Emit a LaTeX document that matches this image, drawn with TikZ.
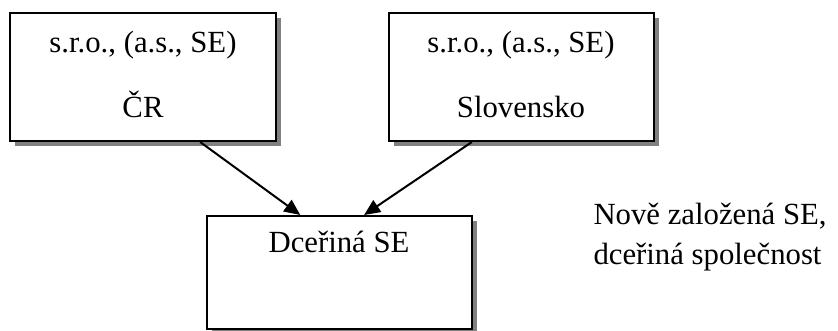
\documentclass[tikz,border=0pt]{standalone}
\usepackage{fontspec}
\setmainfont{Liberation Serif}
\usepackage{xcolor}
\usetikzlibrary{shadows,calc,arrows.meta}

\definecolor{stin}{gray}{0.5}

\tikzset{
	box/.style={draw, line width=0.8pt, fill=white, inner sep=0pt, minimum width=106pt,
		drop shadow={shadow xshift=2pt, shadow yshift=-2pt, fill=stin, opacity=1}},
	txt/.style={font=\fontsize{12.3}{15}\selectfont, inner sep=0pt},
	spoj/.style={line width=0.8pt, -{Triangle[length=6.4pt,width=5.6pt]}}
}

\begin{document}
\begin{tikzpicture}[x=0.4pt, y=-0.4pt]
				\useasboundingbox (0, 0) rectangle (838, 331);
				
				%Level 1
				\node[box, minimum height=51.2pt] (cr) at (143, 77) {};
				\node[txt, anchor=base] (cr1) at (143, 52.7) {s.r.o., (a.s., SE)};
				\node[txt, anchor=base] (cr2) at (143, 118) {ČR};
				
				\node[box, minimum height=51.2pt] (sk) at (521, 77) {};
				\node[txt, anchor=base] (sk1) at (521, 52.7) {s.r.o., (a.s., SE)};
				\node[txt, anchor=base] (sk2) at (521, 118) {Slovensko};
				
				%Level 2
				\node[box, minimum height=45.2pt] (dcera) at (339, 272.5) {};
				\node[txt, anchor=base] (dcera1) at (339, 253) {Dceřiná SE};
				
				%Lines
				\draw[spoj] ($(cr.south west)!0.714!(cr.south east)$) -- ($(dcera.north west)!0.355!(dcera.north east)$);
				\draw[spoj] ($(sk.south west)!0.316!(sk.south east)$) -- ($(dcera.north west)!0.594!(dcera.north east)$);
				
				%Note
				\node[txt, anchor=base west] (pozn1) at (593, 225) {Nově založená SE,};
				\node[txt, anchor=base west] (pozn2) at (593, 265) {dceřiná společnost};
			\end{tikzpicture}
\end{document}
